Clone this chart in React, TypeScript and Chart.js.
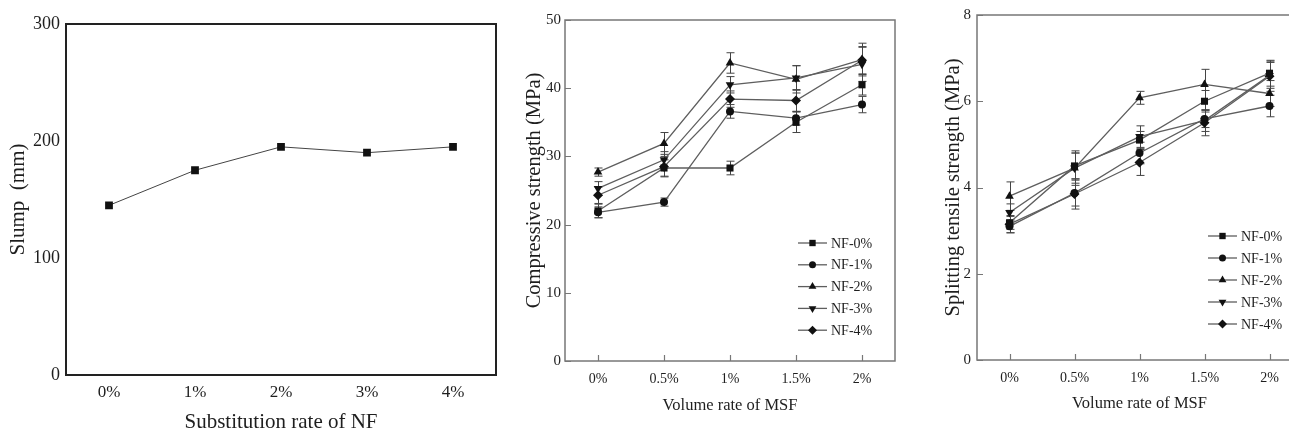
import React, { useEffect, useRef } from 'react';
import { Chart, registerables } from 'chart.js';
import { drawPoint } from 'chart.js/helpers';

Chart.register(...registerables);

// ---------- Data ----------
const NF_RATES = ['0%', '1%', '2%', '3%', '4%'];
const SLUMP = [145, 175, 195, 190, 195];

const MSF_RATES = ['0%', '0.5%', '1%', '1.5%', '2%'];
const SERIES_NAMES = ['NF-0%', 'NF-1%', 'NF-2%', 'NF-3%', 'NF-4%'];

// Compressive strength (MPa)
const COMP_NF0 = [22.0, 28.3, 28.3, 35.0, 40.5];
const COMP_NF1 = [21.8, 23.3, 36.6, 35.6, 37.6];
const COMP_NF2 = [27.7, 31.9, 43.7, 41.3, 44.2];
const COMP_NF3 = [25.3, 29.5, 40.5, 41.5, 43.5];
const COMP_NF4 = [24.3, 28.5, 38.4, 38.2, 44.1];
const COMP_ERR_NF0 = [1.0, 1.2, 1.0, 1.5, 1.5];
const COMP_ERR_NF1 = [0.8, 0.6, 1.0, 1.0, 1.2];
const COMP_ERR_NF2 = [0.6, 1.6, 1.5, 2.0, 2.4];
const COMP_ERR_NF3 = [1.0, 1.2, 1.2, 1.8, 2.5];
const COMP_ERR_NF4 = [1.2, 1.5, 1.2, 1.6, 2.0];

// Splitting tensile strength (MPa)
const TENS_NF0 = [3.18, 4.5, 5.1, 6.0, 6.65];
const TENS_NF1 = [3.1, 3.87, 4.8, 5.59, 5.89];
const TENS_NF2 = [3.8, 4.45, 6.08, 6.39, 6.18];
const TENS_NF3 = [3.42, 4.45, 5.18, 5.55, 6.6];
const TENS_NF4 = [3.15, 3.85, 4.58, 5.5, 6.58];
const TENS_ERR_NF0 = [0.15, 0.3, 0.2, 0.25, 0.3];
const TENS_ERR_NF1 = [0.15, 0.3, 0.25, 0.2, 0.25];
const TENS_ERR_NF2 = [0.33, 0.4, 0.15, 0.35, 0.3];
const TENS_ERR_NF3 = [0.2, 0.35, 0.25, 0.25, 0.3];
const TENS_ERR_NF4 = [0.2, 0.35, 0.3, 0.3, 0.35];

// ---------- Styles ----------
const FONT = "'Liberation Serif', 'Times New Roman', serif";
const TEXT = '#1e1e1e';
const POINT_STYLES = ['rect', 'circle', 'triangle', 'triangle', 'rectRot'];
const POINT_ROT = [0, 0, 0, 180, 0];
const POINT_RAD = [5, 4, 5, 5, 5];

// ---------- Plugins ----------
const framePlugin = {
  id: 'frame',
  beforeDatasetsDraw(chart: any, _a: any, opts: any) {
    const { ctx, chartArea: a } = chart;
    ctx.save();
    ctx.strokeStyle = opts.color;
    ctx.lineWidth = opts.width;
    ctx.strokeRect(a.left, a.top, a.right - a.left, a.bottom - a.top);
    if (opts.innerTicks) {
      const xs = chart.scales.x;
      const ys = chart.scales.y;
      ctx.lineWidth = 1.2;
      ctx.beginPath();
      xs.ticks.forEach((_t: any, i: number) => {
        const px = Math.round(xs.getPixelForTick(i)) + 0.5;
        ctx.moveTo(px, a.bottom);
        ctx.lineTo(px, a.bottom - opts.innerTicks);
      });
      ys.ticks.forEach((_t: any, i: number) => {
        const py = Math.round(ys.getPixelForTick(i)) + 0.5;
        ctx.moveTo(a.left, py);
        ctx.lineTo(a.left + opts.innerTicks, py);
      });
      ctx.stroke();
    }
    ctx.restore();
  },
};

const errorPlugin = {
  id: 'errorBars',
  beforeDatasetsDraw(chart: any, _a: any, opts: any) {
    if (!opts.errors) return;
    const { ctx } = chart;
    const ys = chart.scales.y;
    ctx.save();
    ctx.strokeStyle = opts.color || '#444';
    ctx.lineWidth = 1;
    chart.data.datasets.forEach((ds: any, i: number) => {
      const meta = chart.getDatasetMeta(i);
      const errs = opts.errors[i];
      meta.data.forEach((pt: any, j: number) => {
        const v = ds.data[j];
        const e = errs[j];
        const x = Math.round(pt.x) + 0.5;
        const y1 = ys.getPixelForValue(v + e);
        const y2 = ys.getPixelForValue(v - e);
        ctx.beginPath();
        ctx.moveTo(x, y1);
        ctx.lineTo(x, y2);
        ctx.moveTo(x - 4, y1);
        ctx.lineTo(x + 4, y1);
        ctx.moveTo(x - 4, y2);
        ctx.lineTo(x + 4, y2);
        ctx.stroke();
      });
    });
    ctx.restore();
  },
};

const legendPlugin = {
  id: 'inLegend',
  afterDatasetsDraw(chart: any, _a: any, opts: any) {
    if (!opts.show) return;
    const { ctx } = chart;
    ctx.save();
    ctx.font = `14px ${FONT}`;
    ctx.textBaseline = 'middle';
    ctx.textAlign = 'left';
    chart.data.datasets.forEach((ds: any, i: number) => {
      const y = opts.y + i * opts.gap;
      ctx.strokeStyle = ds.borderColor;
      ctx.lineWidth = ds.borderWidth;
      ctx.beginPath();
      ctx.moveTo(opts.x, y);
      ctx.lineTo(opts.x + 29, y);
      ctx.stroke();
      ctx.fillStyle = '#111';
      ctx.strokeStyle = '#111';
      drawPoint(ctx, {
        pointStyle: ds.pointStyle,
        rotation: ds.pointRotation,
        radius: ds.pointRadius - 0.5,
        borderWidth: 0,
      }, opts.x + 14.5, y);
      ctx.fillStyle = TEXT;
      ctx.fillText(ds.label, opts.x + 33, y + 1);
    });
    ctx.restore();
  },
};

// ---------- Helpers ----------
function seriesDatasets(values: number[][]) {
  return values.map((v, i) => ({
    label: SERIES_NAMES[i],
    data: v,
    borderColor: '#5e5e5e',
    borderWidth: 1.3,
    pointStyle: POINT_STYLES[i],
    pointRotation: POINT_ROT[i],
    pointRadius: POINT_RAD[i],
    pointBackgroundColor: '#111',
    pointBorderColor: '#111',
    pointBorderWidth: 0,
    tension: 0,
  }));
}

type PanelProps = { left: number; width: number; config: any };

function Panel({ left, width, config }: PanelProps) {
  const ref = useRef<HTMLCanvasElement>(null);
  useEffect(() => {
    const chart = new Chart(ref.current as HTMLCanvasElement, config);
    return () => chart.destroy();
  }, []);
  return (
    <div style={{ position: 'absolute', left, top: 0, width, height: 431 }}>
      <canvas ref={ref} width={width} height={431} style={{ width, height: 431, display: 'block' }} />
    </div>
  );
}

function baseOptions(o: any) {
  return {
    responsive: false,
    animation: false,
    devicePixelRatio: 1,
    events: [],
    layout: { padding: o.padding },
    plugins: {
      legend: { display: false },
      tooltip: { enabled: false },
      frame: o.frame,
      errorBars: { errors: o.errors },
      inLegend: o.legend || { show: false },
    },
    scales: {
      x: {
        type: 'category',
        offset: true,
        grid: { display: false, drawTicks: false },
        border: { display: false },
        ticks: { color: TEXT, font: { family: FONT, size: o.xTickSize }, padding: o.xTickPad, maxRotation: 0, autoSkip: false },
        title: {
          display: true,
          text: o.xTitle,
          color: TEXT,
          font: { family: FONT, size: o.xTitleSize, lineHeight: 1 },
          padding: { top: 0, bottom: o.xTitlePad },
        },
        afterFit: (s: any) => { s.height = o.xHeight; },
      },
      y: {
        min: o.yMin,
        max: o.yMax,
        grid: { display: false, drawTicks: false },
        border: { display: false },
        ticks: { stepSize: o.yStep, color: TEXT, font: { family: FONT, size: o.yTickSize }, padding: o.yTickPad },
        title: {
          display: true,
          text: o.yTitle,
          color: TEXT,
          font: { family: FONT, size: o.yTitleSize, lineHeight: 1 },
          padding: { top: o.yTitlePad, bottom: 0 },
        },
        afterFit: (s: any) => { s.width = o.yWidth; },
      },
    },
  };
}

const slumpConfig = {
  type: 'line',
  data: {
    labels: NF_RATES,
    datasets: [{
      label: 'Slump',
      data: SLUMP,
      borderColor: '#444',
      borderWidth: 1,
      pointStyle: 'rect',
      pointRadius: 5.5,
      pointBackgroundColor: '#111',
      pointBorderWidth: 0,
      tension: 0,
    }],
  },
  options: baseOptions({
    padding: { top: 24, right: 14, left: 0, bottom: 0 },
    frame: { color: '#222', width: 2, innerTicks: 0 },
    xTickSize: 17, xTickPad: 7, xTitle: 'Substitution rate of NF', xTitleSize: 21, xTitlePad: -2, xHeight: 56,
    yMin: 0, yMax: 300, yStep: 100, yTickSize: 18, yTickPad: 6,
    yTitle: 'Slump  (mm)', yTitleSize: 21, yTitlePad: 7.5, yWidth: 66,
  }),
  plugins: [framePlugin, errorPlugin, legendPlugin],
};

const compConfig = {
  type: 'line',
  data: {
    labels: MSF_RATES,
    datasets: seriesDatasets([COMP_NF0, COMP_NF1, COMP_NF2, COMP_NF3, COMP_NF4]),
  },
  options: baseOptions({
    padding: { top: 20, right: 5, left: 0, bottom: 0 },
    frame: { color: '#777', width: 1.5, innerTicks: 6 },
    errors: [COMP_ERR_NF0, COMP_ERR_NF1, COMP_ERR_NF2, COMP_ERR_NF3, COMP_ERR_NF4],
    legend: { show: true, x: 283, y: 243, gap: 21.8 },
    xTickSize: 14, xTickPad: 10, xTitle: 'Volume rate of MSF', xTitleSize: 16.5, xTitlePad: 17.5, xHeight: 70,
    yMin: 0, yMax: 50, yStep: 10, yTickSize: 15, yTickPad: 4,
    yTitle: 'Compressive strength (MPa)', yTitleSize: 20.5, yTitlePad: 9.5, yWidth: 50,
  }),
  plugins: [framePlugin, errorPlugin, legendPlugin],
};

const tensConfig = {
  type: 'line',
  data: {
    labels: MSF_RATES,
    datasets: seriesDatasets([TENS_NF0, TENS_NF1, TENS_NF2, TENS_NF3, TENS_NF4]),
  },
  options: baseOptions({
    padding: { top: 15, right: 8, left: 0, bottom: 0 },
    frame: { color: '#777', width: 1.5, innerTicks: 6 },
    errors: [TENS_ERR_NF0, TENS_ERR_NF1, TENS_ERR_NF2, TENS_ERR_NF3, TENS_ERR_NF4],
    legend: { show: true, x: 283, y: 236, gap: 22 },
    xTickSize: 14, xTickPad: 10, xTitle: 'Volume rate of MSF', xTitleSize: 16.5, xTitlePad: 19.5, xHeight: 71,
    yMin: 0, yMax: 8, yStep: 2, yTickSize: 15, yTickPad: 6,
    yTitle: 'Splitting tensile strength (MPa)', yTitleSize: 20.5, yTitlePad: 18, yWidth: 52,
  }),
  plugins: [framePlugin, errorPlugin, legendPlugin],
};

export default function App() {
  return (
    <div style={{ position: 'fixed', left: 0, top: 0, width: 1289, height: 431, overflow: 'hidden', background: '#fff' }}>
      <Panel left={0} width={510} config={slumpConfig} />
      <Panel left={515} width={385} config={compConfig} />
      <Panel left={925} width={385} config={tensConfig} />
    </div>
  );
}
